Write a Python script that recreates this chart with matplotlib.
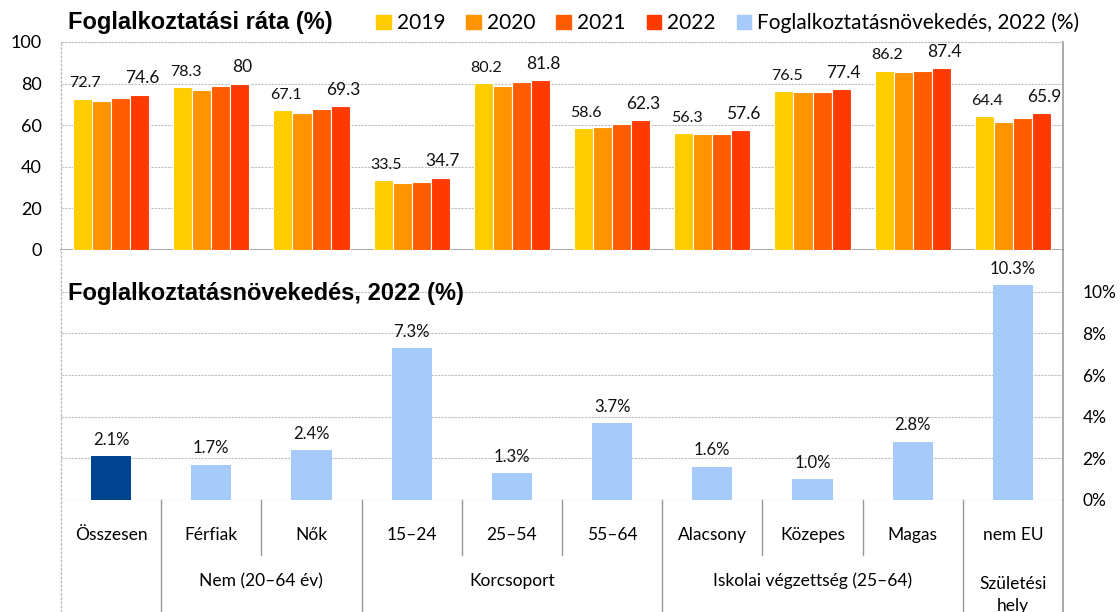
import matplotlib.pyplot as plt
import matplotlib.transforms as mtransforms
from matplotlib.patches import Patch
import numpy as np

# --- data ---
categories = ["Összesen", "Férfiak", "Nők", "15–24", "25–54", "55–64",
              "Alacsony", "Közepes", "Magas", "nem EU"]
group_labels = ["Nem (20–64 év)", "Korcsoport", "Iskolai végzettség (25–64)", "Születési\nhely"]
group_spans = [(1, 2), (3, 5), (6, 8), (9, 9)]

years = ["2019", "2020", "2021", "2022"]
rate_2019 = [72.7, 78.3, 67.1, 33.5, 80.2, 58.6, 56.3, 76.5, 86.2, 64.4]
rate_2020 = [71.5, 77.1, 65.9, 32.0, 78.7, 59.3, 55.7, 75.8, 85.4, 61.6]
rate_2021 = [73.2, 78.8, 67.8, 32.5, 80.6, 60.4, 55.7, 75.8, 86.0, 63.5]
rate_2022 = [74.6, 80.0, 69.3, 34.7, 81.8, 62.3, 57.6, 77.4, 87.4, 65.9]
growth_2022 = [2.1, 1.7, 2.4, 7.3, 1.3, 3.7, 1.6, 1.0, 2.8, 10.3]

year_colors = ["#FFCC00", "#FF9400", "#FF5C00", "#FF3A00"]
light_blue = "#A6CBFA"
dark_blue = "#00438F"
grid_col = "#BDBDBD"
spine_col = "#999999"

plt.rcParams['font.family'] = ['Lato', 'DejaVu Sans']

fig = plt.figure(figsize=(11.2, 6.12), dpi=100)
W, H = 1120, 612
x0, x1 = 61, 1063
ax1 = fig.add_axes([x0 / W, (H - 250) / H, (x1 - x0) / W, (250 - 42) / H])
ax2 = fig.add_axes([x0 / W, (H - 500) / H, (x1 - x0) / W, 250 / H])

x = np.arange(len(categories))

# --- top chart ---
rates = [rate_2019, rate_2020, rate_2021, rate_2022]
bw = 0.19
for i, (vals, col) in enumerate(zip(rates, year_colors)):
    pos = x + (i - 1.5) * bw
    ax1.bar(pos, vals, width=bw, color=col, edgecolor="white", linewidth=0.8, zorder=3)
    if i in (0, 3):
        fs = 11.5 if i == 0 else 12.5
        for px, v in zip(pos, vals):
            lab = f"{v:g}"
            ax1.annotate(lab, (px, v), xytext=(2, 6), textcoords="offset points",
                         ha="center", va="bottom", fontsize=fs, color="#111111")

ax1.set_xlim(-0.5, len(categories) - 0.5)
ax1.set_ylim(0, 100)
ax1.set_yticks(range(0, 101, 20))
ax1.tick_params(axis="y", length=0, labelsize=13, pad=14)
ax1.set_xticks(np.arange(0.5, len(categories) - 0.5, 1))
ax1.set_xticklabels([])
ax1.tick_params(axis="x", direction="out", length=6, color=spine_col)
ax1.grid(axis="y", color=grid_col, linestyle=(0, (2, 1)), linewidth=0.8, zorder=0)
ax1.spines["top"].set_visible(False)
ax1.spines["left"].set_visible(False)
ax1.spines["right"].set_color(spine_col)
ax1.spines["bottom"].set_color(spine_col)
ax1.spines["right"].set_linewidth(1.2)
ax1.spines["bottom"].set_linewidth(1.2)

# --- bottom chart ---
bar_cols = [dark_blue] + [light_blue] * (len(categories) - 1)
ax2.bar(x, growth_2022, width=0.4, color=bar_cols, zorder=3)
for px, v in zip(x, growth_2022):
    ax2.annotate(f"{v:.1f}%", (px, v), xytext=(0, 6), textcoords="offset points",
                 ha="center", va="bottom", fontsize=12, color="#111111")
ax2.set_xlim(-0.5, len(categories) - 0.5)
ax2.set_ylim(0, 12)
ax2.set_yticks(range(0, 11, 2))
ax2.set_yticklabels([f"{t}%" for t in range(0, 11, 2)])
ax2.yaxis.tick_right()
ax2.tick_params(axis="y", length=0, labelsize=12.5, pad=14)
ax2.set_xticks([])
ax2.grid(axis="y", color=grid_col, linestyle=(0, (2, 1)), linewidth=0.8, zorder=0)
for s in ["top", "left", "bottom"]:
    ax2.spines[s].set_visible(False)
ax2.spines["right"].set_color(spine_col)
ax2.spines["right"].set_linewidth(1.2)
ax2.axhline(0, color=grid_col, linestyle=(0, (2, 1)), linewidth=0.8, zorder=2)

# frame lines: dotted left & top
fig.add_artist(plt.Line2D([x0 / W, x0 / W], [0, (H - 42) / H], color=grid_col,
                          linestyle=(0, (2, 1)), linewidth=1.0))
fig.add_artist(plt.Line2D([x0 / W, x1 / W], [(H - 42) / H, (H - 42) / H], color=grid_col,
                          linestyle=(0, (2, 1)), linewidth=0.8))
fig.add_artist(plt.Line2D([x1 / W, x1 / W], [0, (H - 500) / H], color=spine_col, linewidth=1.2))

# category labels and separators below bottom chart
trans = mtransforms.blended_transform_factory(ax2.transData, ax2.transAxes)
bottom = -112 / 250
short = -55 / 250
long_seps = [0.5, 2.5, 5.5, 8.5]
short_seps = [1.5, 3.5, 4.5, 6.5, 7.5]
for s in long_seps:
    ax2.plot([s, s], [0, bottom], color=spine_col, linewidth=1.0, transform=trans, clip_on=False)
for s in short_seps:
    ax2.plot([s, s], [0, short], color=spine_col, linewidth=1.0, transform=trans, clip_on=False)
for px, lab in zip(x, categories):
    ax2.text(px, -35 / 250, lab, transform=trans, ha="center", va="center", fontsize=12.5)
for (a, b), lab in zip(group_spans, group_labels):
    yy = -95 / 250 if "\n" in lab else -81 / 250
    ax2.text((a + b) / 2, yy, lab, transform=trans, ha="center", va="center",
             fontsize=12.5, linespacing=1.45)

# titles
fig.text(68 / W, 1 - 22 / H, "Foglalkoztatási ráta (%)", fontsize=17, fontweight="bold",
         family="Liberation Sans", ha="left", va="center")
fig.text(68 / W, 1 - 293 / H, "Foglalkoztatásnövekedés, 2022 (%)", fontsize=17,
         fontweight="bold", family="Liberation Sans", ha="left", va="center")

# legend
handles = [Patch(color=c, label=y) for c, y in zip(year_colors, years)]
handles.append(Patch(color=light_blue, label="Foglalkoztatásnövekedés, 2022 (%)"))
fig.legend(handles=handles, loc="center left", bbox_to_anchor=(376 / W, 1 - 23 / H),
           ncol=5, frameon=False, fontsize=15, handlelength=0.7, handleheight=0.7,
           handletextpad=0.3, columnspacing=1.0, borderaxespad=0, borderpad=0)

fig.savefig("out.png", dpi=100)
